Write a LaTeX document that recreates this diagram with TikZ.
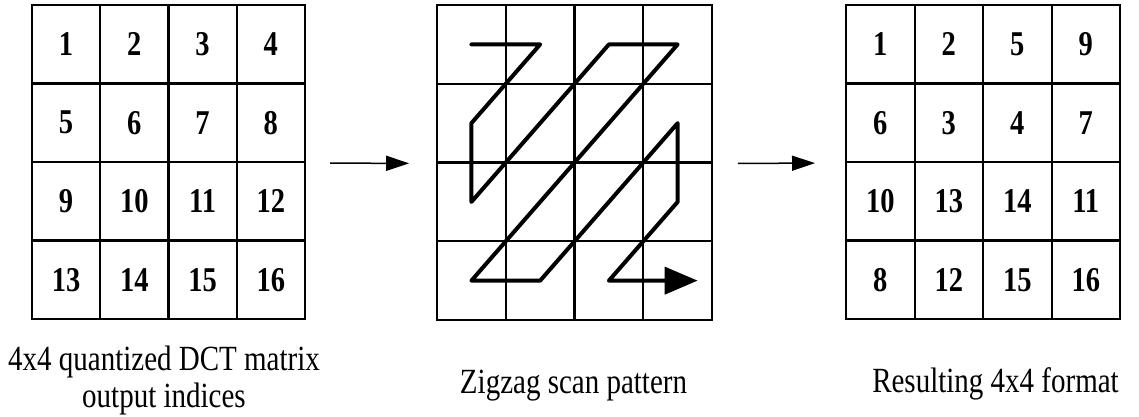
\documentclass[tikz,border=0pt]{standalone}
\usepackage{fontspec}
\setmainfont{Liberation Serif}
\usetikzlibrary{arrows.meta}
\newcommand{\tall}[1]{\scalebox{1}[1.22]{#1}}

\begin{document}
\begin{tikzpicture}[
  x=1pt, y=-1pt,
  cell/.style={draw, line width=2pt, minimum width=68.5pt, minimum height=78.6pt, inner sep=0pt,
               font=\fontsize{28.5}{30}\selectfont\bfseries},
  capt/.style={font=\fontsize{29}{37}\selectfont, align=center, inner sep=0pt},
  flow/.style={-{Triangle[length=23pt,width=15pt]}, line width=1.5pt},
  scan/.style={line width=4pt, line cap=round, line join=round}
]
\useasboundingbox (0,0) rectangle (1139,417);

% Input matrix
\foreach \r in {0,...,3}
  \foreach \c in {0,...,3}{
    \pgfmathtruncatemacro\n{4*\r+\c+1}
    \node[cell] (in-\r\c) at (66.1+68.25*\c, 44.25+78.5*\r) {\tall{\n}};
  }

% Zigzag grid
\foreach \r in {0,...,3}
  \foreach \c in {0,...,3}
    \node[cell] (zz-\r\c) at (471.4+68.75*\c, 44.4+78.75*\r) {};

% Output matrix
\foreach \v [count=\i from 0] in {1,2,5,9,6,3,4,7,10,13,14,11,8,12,15,16}{
  \pgfmathtruncatemacro\r{\i/4}
  \pgfmathtruncatemacro\c{mod(\i,4)}
  \node[cell] (out-\r\c) at (880.25+68.5*\c, 44.25+78.5*\r) {\tall{\v}};
}

% Scan path
\draw[scan, -{Triangle[length=33pt,width=27pt]}]
  (zz-00.center) -- (zz-01.center) -- (zz-10.center) -- (zz-20.center)
  -- (zz-02.center) -- (zz-03.center) -- (zz-30.center) -- (zz-31.center)
  -- (zz-13.center) -- (zz-23.center) -- (zz-32.center) -- ([xshift=20pt]zz-33.center);

% Flow arrows
\draw[flow, shorten <=24pt, shorten >=27pt] (in-13.south east) -- (zz-10.south west);
\draw[flow, shorten <=25pt, shorten >=30pt] (zz-13.south east) -- (out-10.south west);

% Captions
\node[capt] (capin) at (164,380) {\tall{4x4 quantized DCT matrix}\\\tall{output indices}};
\node[capt, anchor=base] (capzz) at (573.5,393) {\tall{Zigzag scan pattern}};
\node[capt, anchor=base] (capout) at (995.5,392) {\tall{Resulting 4x4 format}};
\end{tikzpicture}
\end{document}
